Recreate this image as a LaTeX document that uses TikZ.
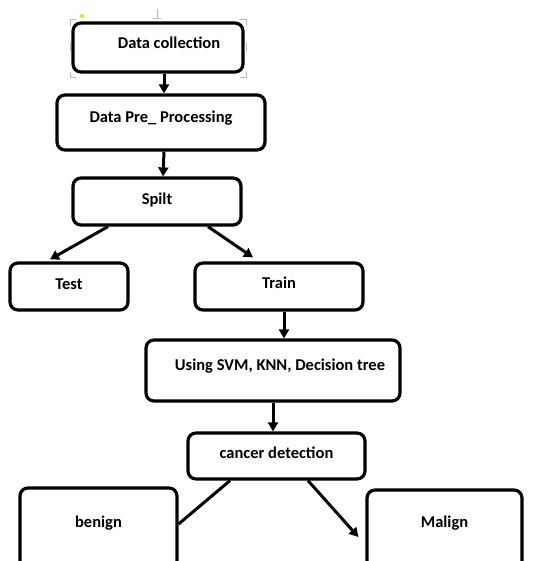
\documentclass[tikz,border=0pt]{standalone}
\usepackage{fontspec}
\setmainfont{Carlito}
\usetikzlibrary{arrows.meta,calc}

\tikzset{
    tbox/.style={draw, line width=3.2pt, rounded corners=8pt, font=\bfseries,
        text height=12pt, text depth=#1, inner sep=0pt},
    flow/.style={line width=3pt, -{Triangle[width=10pt,length=9pt]}},
    handle/.style={draw=gray!55, line width=1pt}
}

\begin{document}
\fontsize{16.5pt}{19pt}\selectfont
\begin{tikzpicture}[x=1pt,y=-1pt]
    \useasboundingbox (0,0) rectangle (539,561);
    \clip (0,0) rectangle (539,561);

    \node[tbox=10.4pt, minimum width=170pt, minimum height=49pt] (collect) at (158,47.5) {\hspace*{22pt}Data collection};
    \node[tbox=12.4pt, minimum width=208pt, minimum height=55pt] (preproc) at (161,122.5) {Data Pre\_ Processing};
    \node[tbox=6.4pt, minimum width=168pt, minimum height=47pt] (split) at (157,201.5) {Spilt};
    \node[tbox=6.4pt, minimum width=118pt, minimum height=47pt] (test) at (69,286.5) {Test};
    \node[tbox=8.4pt, minimum width=168pt, minimum height=47pt] (train) at (279,286.5) {Train};
    \node[tbox=12.4pt, minimum width=254pt, minimum height=61pt] (models) at (273,370.5) {\hspace*{14pt}Using SVM, KNN, Decision tree};
    \node[tbox=7.4pt, minimum width=177pt, minimum height=46pt] (detect) at (276.5,456) {cancer detection};
    \node[tbox=25.4pt, minimum width=157pt, minimum height=92pt] (benign) at (98.5,534) {benign};
    \node[tbox=27.4pt, minimum width=155pt, minimum height=90pt] (malign) at (444.5,535) {Malign};

    % editor selection handles
    \draw[handle] (70,26) -- (70,20) -- (76,20);
    \draw[handle] (240,20) -- (246,20) -- (246,26);
    \draw[handle] (70,72) -- (70,78) -- (76,78);
    \draw[handle] (240,78) -- (246,78) -- (246,72);
    \draw[handle] (70,43) -- (70,51);
    \draw[handle] (246,43) -- (246,51);
    \draw[handle] (157,9) -- (157,19);
    \draw[handle] (153,19) -- (161,19);
    \fill[yellow!80!olive] (82,16) circle (2pt);

    \draw[flow] ([xshift=6pt]collect.south) -- ([xshift=3pt]preproc.north);
    \draw[flow] ([xshift=3pt]preproc.south) -- ([xshift=6pt]split.north);
    \draw[flow] ([xshift=-49pt]split.south) -- ([xshift=-19pt,yshift=2pt]test.north);
    \draw[flow] ([xshift=51pt]split.south) -- ([xshift=-26pt,yshift=4pt]train.north);
    \draw[flow] ($(train.south)+(5,0)$) -- ($(train.south |- models.north)+(5,0)$);
    \draw[flow] (models.south) -- (models.south |- detect.north);
    \draw[line width=3pt] ([xshift=-46.5pt]detect.south) -- ([yshift=10pt]benign.east);
    \draw[flow] ([xshift=31.5pt]detect.south) -- ([xshift=-7pt,yshift=-2pt]malign.west);
\end{tikzpicture}
\end{document}
